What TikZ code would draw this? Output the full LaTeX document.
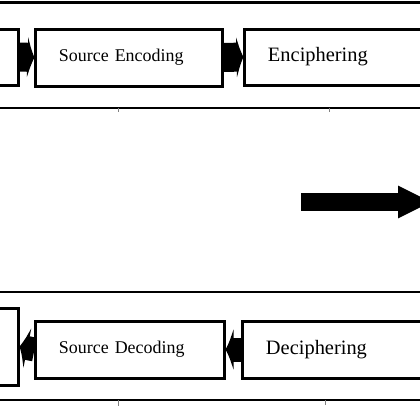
\documentclass[tikz,border=0pt]{standalone}
\usepackage{fontspec}
\setmainfont{Liberation Serif}
\usetikzlibrary{arrows.meta}
\begin{document}
\begin{tikzpicture}[x=1bp,y=-1bp,
        block/.style={draw,line width=3bp,inner xsep=23bp,inner ysep=0pt,
            minimum height=57bp,align=left,font=\fontsize{18}{20}\selectfont},
        stub/.style={draw,line width=3bp,inner sep=0pt,minimum width=38bp},
        fatright/.style={line width=29bp,-{Latex[length=7bp,width=44bp]}},
        fatleft/.style={line width=24bp,-{Latex[length=8bp,width=44bp]}}]
    \clip (0,0) rectangle (420,420);
    \useasboundingbox (0,0) rectangle (420,420);

	% sending side
    \draw[line width=3bp] (0,2) -- (420,2);
    \node[stub,minimum height=56bp] (sendin) at (-1,57) {};
    \node[block,text width=140bp] (srcenc) at (129,57.5) {Source Encoding};
    \node[block,text width=154bp,minimum height=56bp,
        font=\fontsize{20.5}{22}\selectfont] (enciph) at (345,57) {Enciphering};
    \draw[fatright] (sendin.east) -- (srcenc.west);
    \draw[fatright] (srcenc.east) -- (enciph.west);
    \draw[line width=2.5bp] (0,108) -- (420,108);
    \draw[very thin,gray] (118,108) -- (118,112);
    \draw[very thin,gray] (329,108) -- (329,112);

	% channel
    \coordinate (chanfrom) at (301,202);
    \coordinate (chanto) at (432,202);
    \draw[line width=18bp,-{Triangle[length=34bp,width=30bp]}] (chanfrom) -- (chanto);

	% receiving side
    \draw[line width=2.5bp] (0,292) -- (420,292);
    \node[stub,minimum height=77bp] (recvout) at (-1,346.5) {};
    \node[block,text width=142bp] (srcdec) at (130,349.5) {Source Decoding};
    \node[block,text width=154bp,
        font=\fontsize{20.5}{22}\selectfont] (deciph) at (343,349.5) {Deciphering};
    \draw[fatleft] (srcdec.west) -- (recvout.east);
    \draw[fatleft] (deciph.west) -- (srcdec.east);
    \draw[line width=2.5bp] (0,400) -- (420,400);
    \draw[very thin,gray] (118,400) -- (118,406);
    \draw[very thin,gray] (325,400) -- (325,405);
\end{tikzpicture}
\end{document}
